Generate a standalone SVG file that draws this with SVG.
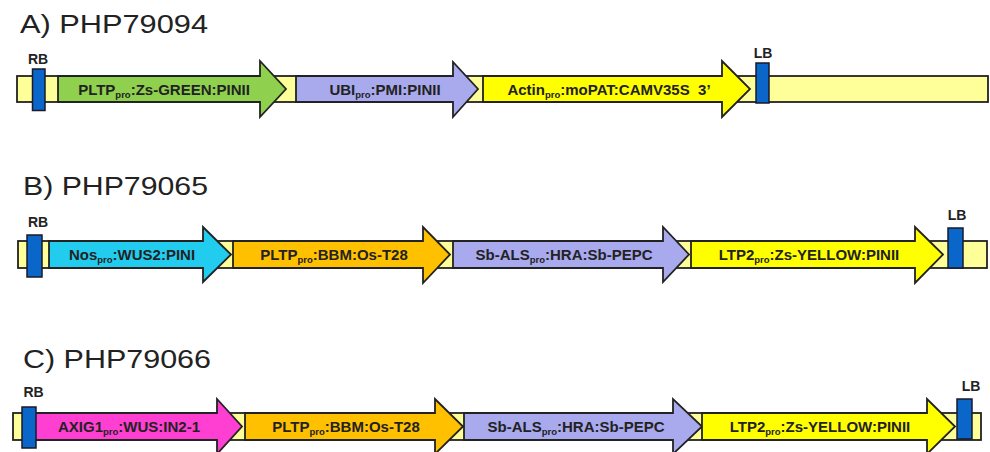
<svg xmlns="http://www.w3.org/2000/svg" width="990" height="452" viewBox="0 0 990 452">
<style>
.bg{fill:#ffffff}
.title{font-family:"Liberation Sans",Arial,sans-serif;font-size:26px;fill:#222}
.bb{fill:#FFFF99;stroke:#222;stroke-width:1.8}
.border{fill:#0A66C8;stroke:#1a1a2a;stroke-width:1.5}
.bl{font-family:"Liberation Sans",Arial,sans-serif;font-size:14px;font-weight:bold;fill:#222;text-anchor:middle}
.arr{stroke:#222;stroke-width:1.8;stroke-linejoin:miter}
.lab{font-family:"Liberation Sans",Arial,sans-serif;font-size:15px;font-weight:bold;fill:#222;text-anchor:middle}
.sub{font-size:9.5px}
.green{fill:#8FD14F}
.lav{fill:#A9A9EE}
.yel{fill:#FFFF00}
.cyan{fill:#22CCEE}
.orange{fill:#FFC000}
.mag{fill:#FF3FD2}
</style>
<rect class="bg" x="0" y="0" width="990" height="452"/>

<g id="panelA">
  <text class="title" x="20" y="33" textLength="188" lengthAdjust="spacingAndGlyphs">A) PHP79094</text>
  <g id="A_backbone"><rect class="bb" x="17" y="76" width="971" height="26"/></g>
  <g id="A_green">
    <path class="arr green" d="M58 76 H260 V61 L286 89 L260 117 V102 H58 Z"/>
    <text class="lab" x="164" y="94.5">PLTP<tspan class="sub" dy="3">pro</tspan><tspan dy="-3">:Zs-GREEN:PINII</tspan></text>
  </g>
  <g id="A_ubi">
    <path class="arr lav" d="M296 76 H453 V62 L478 89 L453 117 V102 H296 Z"/>
    <text class="lab" x="385" y="94.5">UBI<tspan class="sub" dy="3">pro</tspan><tspan dy="-3">:PMI:PINII</tspan></text>
  </g>
  <g id="A_actin">
    <path class="arr yel" d="M483 76 H722 V61 L750 89 L722 117 V102 H483 Z"/>
    <text class="lab" x="609" y="94.5">Actin<tspan class="sub" dy="3">pro</tspan><tspan dy="-3">:moPAT:CAMV35S&#160; 3’</tspan></text>
  </g>
  <g id="A_RB">
    <rect class="border" x="32.5" y="69" width="12.5" height="41.5"/>
    <text class="bl" x="38" y="64">RB</text>
  </g>
  <g id="A_LB">
    <rect class="border" x="756" y="63" width="13" height="40"/>
    <text class="bl" x="763" y="58">LB</text>
  </g>
</g>

<g id="panelB">
  <text class="title" x="23" y="195" textLength="185" lengthAdjust="spacingAndGlyphs">B) PHP79065</text>
  <g id="B_backbone"><rect class="bb" x="18" y="241" width="969" height="27"/></g>
  <g id="B_nos">
    <path class="arr cyan" d="M49 241 H203 V227 L231 254.5 L203 282 V268 H49 Z"/>
    <text class="lab" x="132" y="260">Nos<tspan class="sub" dy="3">pro</tspan><tspan dy="-3">:WUS2:PINI</tspan></text>
  </g>
  <g id="B_pltp">
    <path class="arr orange" d="M233 241 H423 V227 L450 254.5 L423 283 V268 H233 Z"/>
    <text class="lab" x="334" y="260">PLTP<tspan class="sub" dy="3">pro</tspan><tspan dy="-3">:BBM:Os-T28</tspan></text>
  </g>
  <g id="B_als">
    <path class="arr lav" d="M453 241 H663 V227 L689 254.5 L663 282 V268 H453 Z"/>
    <text class="lab" x="564" y="260">Sb-ALS<tspan class="sub" dy="3">pro</tspan><tspan dy="-3">:HRA:Sb-PEPC</tspan></text>
  </g>
  <g id="B_ltp2">
    <path class="arr yel" d="M691 241 H915 V227 L943 254.5 L915 283 V268 H691 Z"/>
    <text class="lab" x="809" y="260">LTP2<tspan class="sub" dy="3">pro</tspan><tspan dy="-3">:Zs-YELLOW:PINII</tspan></text>
  </g>
  <g id="B_RB">
    <rect class="border" x="27" y="235" width="15" height="42"/>
    <text class="bl" x="38" y="227">RB</text>
  </g>
  <g id="B_LB">
    <rect class="border" x="948" y="228" width="15" height="40"/>
    <text class="bl" x="957" y="220">LB</text>
  </g>
</g>

<g id="panelC">
  <text class="title" x="23" y="368" textLength="188" lengthAdjust="spacingAndGlyphs">C) PHP79066</text>
  <g id="C_backbone"><rect class="bb" x="13" y="413" width="968" height="27"/></g>
  <g id="C_axig">
    <path class="arr mag" d="M35 413 H217 V399 L242 426.5 L217 454 V440 H35 Z"/>
    <text class="lab" x="129" y="431.5">AXIG1<tspan class="sub" dy="3">pro</tspan><tspan dy="-3">:WUS:IN2-1</tspan></text>
  </g>
  <g id="C_pltp">
    <path class="arr orange" d="M245 413 H435 V399 L463 426.5 L435 454 V440 H245 Z"/>
    <text class="lab" x="346" y="431.5">PLTP<tspan class="sub" dy="3">pro</tspan><tspan dy="-3">:BBM:Os-T28</tspan></text>
  </g>
  <g id="C_als">
    <path class="arr lav" d="M464 413 H673 V399 L702 426.5 L673 454 V440 H464 Z"/>
    <text class="lab" x="576" y="431.5">Sb-ALS<tspan class="sub" dy="3">pro</tspan><tspan dy="-3">:HRA:Sb-PEPC</tspan></text>
  </g>
  <g id="C_ltp2">
    <path class="arr yel" d="M702 413 H927 V399 L955 426.5 L927 454 V440 H702 Z"/>
    <text class="lab" x="820" y="431.5">LTP2<tspan class="sub" dy="3">pro</tspan><tspan dy="-3">:Zs-YELLOW:PINII</tspan></text>
  </g>
  <g id="C_RB">
    <rect class="border" x="22" y="407" width="14" height="41"/>
    <text class="bl" x="33.5" y="397">RB</text>
  </g>
  <g id="C_LB">
    <rect class="border" x="957" y="399" width="15" height="40"/>
    <text class="bl" x="971" y="391">LB</text>
  </g>
</g>

<g id="connectors"></g>
</svg>
